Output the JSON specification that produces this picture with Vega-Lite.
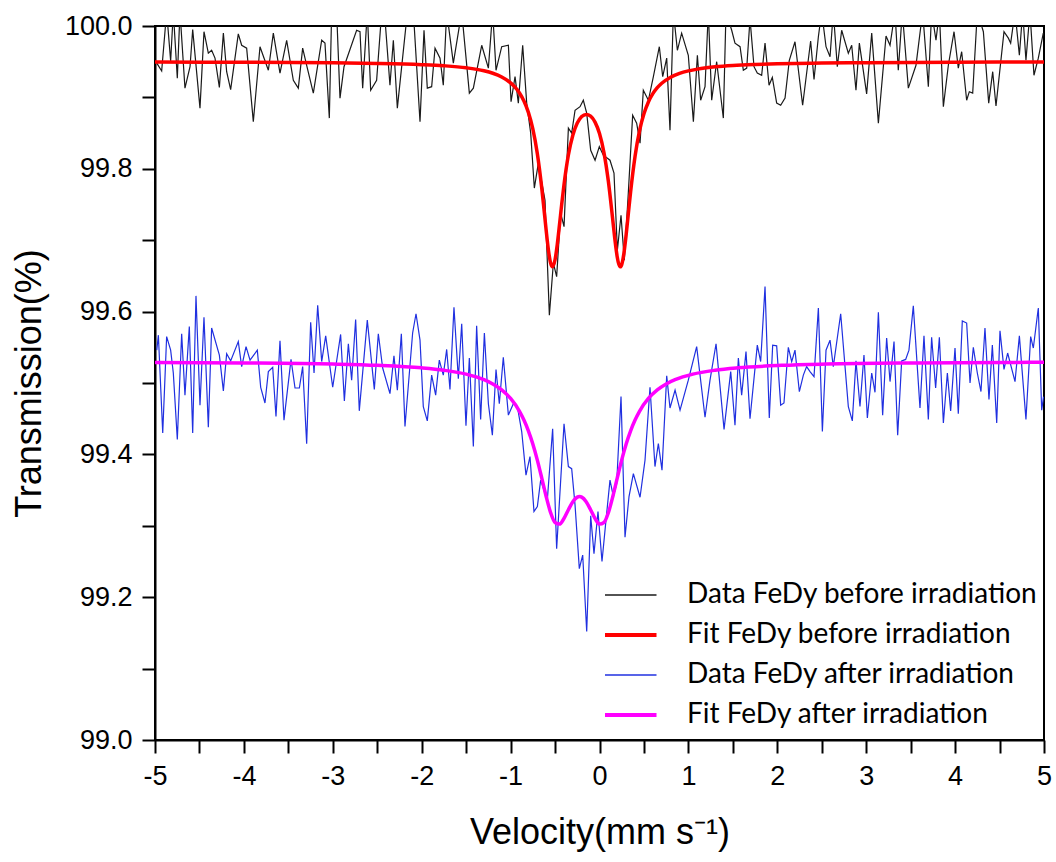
{
"$schema": "https://vega.github.io/schema/vega-lite/v6.json",
"width": 889, "height": 714,
"autosize": {"type": "none"},
"padding": {"left": 155, "top": 26, "right": 12, "bottom": 122},
"background": "white",
"datasets": {
"bd": [
{"x":-4.98,"y":99.948},{"x":-4.925,"y":99.937},{"x":-4.869,"y":100.02},{"x":-4.824,"y":99.951},{"x":-4.794,"y":100.02},{"x":-4.749,"y":99.927},{"x":-4.719,"y":100.02},{"x":-4.663,"y":99.913},{"x":-4.606,"y":99.943},{"x":-4.576,"y":99.995},{"x":-4.494,"y":99.885},{"x":-4.449,"y":99.992},{"x":-4.4,"y":99.962},{"x":-4.363,"y":99.966},{"x":-4.325,"y":99.955},{"x":-4.276,"y":99.914},{"x":-4.231,"y":99.99},{"x":-4.194,"y":99.936},{"x":-4.149,"y":99.911},{"x":-4.063,"y":99.989},{"x":-4.025,"y":99.973},{"x":-3.969,"y":99.969},{"x":-3.894,"y":99.866},{"x":-3.819,"y":99.971},{"x":-3.725,"y":99.938},{"x":-3.669,"y":99.99},{"x":-3.594,"y":99.934},{"x":-3.519,"y":99.98},{"x":-3.444,"y":99.924},{"x":-3.388,"y":99.913},{"x":-3.339,"y":99.969},{"x":-3.294,"y":99.945},{"x":-3.219,"y":99.906},{"x":-3.125,"y":99.98},{"x":-3.088,"y":99.976},{"x":-3.039,"y":99.871},{"x":-3.013,"y":100.02},{"x":-2.957,"y":100.02},{"x":-2.919,"y":99.899},{"x":-2.874,"y":99.943},{"x":-2.732,"y":99.994},{"x":-2.694,"y":99.992},{"x":-2.664,"y":99.913},{"x":-2.612,"y":100.02},{"x":-2.574,"y":99.91},{"x":-2.507,"y":99.924},{"x":-2.45,"y":100.02},{"x":-2.413,"y":100.01},{"x":-2.357,"y":99.917},{"x":-2.319,"y":99.98},{"x":-2.274,"y":99.885},{"x":-2.169,"y":100.01},{"x":-2.094,"y":100.02},{"x":-2.019,"y":99.866},{"x":-1.974,"y":99.994},{"x":-1.937,"y":99.913},{"x":-1.888,"y":99.915},{"x":-1.85,"y":99.969},{"x":-1.794,"y":99.955},
{"x":-1.757,"y":99.917},{"x":-1.719,"y":100.02},{"x":-1.644,"y":99.948},{"x":-1.55,"y":100.02},{"x":-1.464,"y":99.906},{"x":-1.419,"y":99.913},{"x":-1.325,"y":99.973},{"x":-1.25,"y":99.941},{"x":-1.202,"y":100.02},{"x":-1.164,"y":99.938},{"x":-1.1,"y":99.971},{"x":-1.025,"y":99.973},{"x":-0.995,"y":99.894},{"x":-0.95,"y":99.929},{"x":-0.913,"y":99.892},{"x":-0.864,"y":99.973},{"x":-0.819,"y":99.892},{"x":-0.774,"y":99.85},{"x":-0.733,"y":99.773},{"x":-0.688,"y":99.808},{"x":-0.613,"y":99.756},{"x":-0.564,"y":99.595},{"x":-0.519,"y":99.668},{"x":-0.482,"y":99.649},{"x":-0.437,"y":99.738},{"x":-0.399,"y":99.719},{"x":-0.35,"y":99.857},{"x":-0.313,"y":99.85},{"x":-0.275,"y":99.882},{"x":-0.219,"y":99.887},{"x":-0.182,"y":99.896},{"x":-0.144,"y":99.878},{"x":-0.099,"y":99.826},{"x":-0.05,"y":99.812},{"x":-0.002,"y":99.831},{"x":0.043,"y":99.819},{"x":0.118,"y":99.812},{"x":0.163,"y":99.794},{"x":0.201,"y":99.686},{"x":0.242,"y":99.735},{"x":0.279,"y":99.672},{"x":0.324,"y":99.766},{"x":0.373,"y":99.875},{"x":0.418,"y":99.864},{"x":0.456,"y":99.836},{"x":0.493,"y":99.91},{"x":0.55,"y":99.896},{"x":0.606,"y":99.929},{"x":0.673,"y":99.971},{"x":0.711,"y":99.929},{"x":0.756,"y":99.955},{"x":0.793,"y":99.854},{"x":0.831,"y":100.02},{"x":0.876,"y":99.966},{"x":0.924,"y":99.99},{"x":0.999,"y":99.959},{"x":1.056,"y":99.866},{"x":1.101,"y":99.959},{"x":1.138,"y":99.896},{"x":1.187,"y":99.915},{"x":1.224,"y":100.02},{"x":1.262,"y":99.896},{"x":1.318,"y":99.95},{"x":1.393,"y":99.871},{"x":1.423,"y":100.02},{"x":1.487,"y":99.994},{"x":1.524,"y":99.976},{"x":1.581,"y":99.971},{"x":1.618,"y":99.938},{"x":1.656,"y":99.941},{"x":1.693,"y":100.01},
{"x":1.738,"y":99.943},{"x":1.775,"y":99.934},{"x":1.824,"y":99.931},{"x":1.862,"y":99.976},{"x":1.907,"y":99.917},{"x":1.944,"y":99.928},{"x":1.993,"y":99.892},{"x":2.038,"y":99.889},{"x":2.087,"y":99.899},{"x":2.135,"y":99.952},{"x":2.199,"y":99.978},{"x":2.285,"y":99.889},{"x":2.375,"y":99.979},{"x":2.413,"y":99.925},{"x":2.462,"y":99.985},{"x":2.499,"y":100.02},{"x":2.548,"y":99.971},{"x":2.593,"y":99.957},{"x":2.63,"y":100.02},{"x":2.675,"y":99.943},{"x":2.724,"y":99.994},{"x":2.799,"y":99.962},{"x":2.837,"y":99.973},{"x":2.885,"y":99.91},{"x":2.923,"y":99.976},{"x":3.005,"y":99.905},{"x":3.062,"y":99.99},{"x":3.137,"y":99.864},{"x":3.223,"y":99.986},{"x":3.268,"y":99.973},{"x":3.324,"y":100.02},{"x":3.361,"y":99.938},{"x":3.406,"y":100.02},{"x":3.474,"y":99.913},{"x":3.56,"y":99.945},{"x":3.635,"y":100.02},{"x":3.699,"y":99.915},{"x":3.736,"y":100.02},{"x":3.785,"y":99.98},{"x":3.823,"y":100.02},{"x":3.868,"y":99.887},{"x":3.924,"y":99.945},{"x":3.988,"y":99.992},{"x":4.036,"y":99.941},{"x":4.074,"y":99.964},{"x":4.13,"y":99.896},{"x":4.16,"y":99.908},{"x":4.198,"y":99.906},{"x":4.25,"y":100.02},{"x":4.318,"y":99.992},{"x":4.378,"y":99.892},{"x":4.423,"y":99.936},{"x":4.46,"y":99.888},{"x":4.55,"y":99.992},{"x":4.599,"y":99.983},{"x":4.625,"y":99.976},{"x":4.674,"y":100.02},{"x":4.723,"y":99.959},{"x":4.76,"y":100.02},{"x":4.797,"y":99.952},{"x":4.842,"y":100.02},{"x":4.887,"y":99.931},{"x":4.936,"y":99.955},{"x":4.992,"y":99.99}
],
"bf": [
{"x":-5,"y":99.9495},{"x":-4,"y":99.9492},{"x":-3,"y":99.9484},{"x":-2.5,"y":99.9476},{"x":-2,"y":99.9459},{"x":-1.75,"y":99.9443},{"x":-1.5,"y":99.9415},{"x":-1.3,"y":99.9373},{"x":-1.2,"y":99.9338},{"x":-1.1,"y":99.9286},{"x":-1.0,"y":99.9204},{"x":-0.95,"y":99.9143},{"x":-0.9,"y":99.9061},{"x":-0.85,"y":99.8949},{"x":-0.8,"y":99.879},{"x":-0.75,"y":99.8558},{"x":-0.7,"y":99.8217},{"x":-0.65,"y":99.7734},{"x":-0.625,"y":99.7441},{"x":-0.6,"y":99.7139},{"x":-0.575,"y":99.6867},{"x":-0.55,"y":99.668},{"x":-0.53,"y":99.6627},{"x":-0.5,"y":99.6726},{"x":-0.475,"y":99.694},{"x":-0.45,"y":99.7216},{"x":-0.425,"y":99.7505},{"x":-0.4,"y":99.7772},{"x":-0.35,"y":99.8194},{"x":-0.3,"y":99.8471},{"x":-0.25,"y":99.864},{"x":-0.2,"y":99.8732},{"x":-0.15,"y":99.8762},{"x":-0.1,"y":99.8738},{"x":-0.05,"y":99.8654},{"x":0,"y":99.8493},{"x":0.05,"y":99.8227},{"x":0.1,"y":99.7821},{"x":0.15,"y":99.7274},{"x":0.175,"y":99.6992},{"x":0.2,"y":99.6761},{"x":0.21,"y":99.6696},{"x":0.235,"y":99.6627},{"x":0.25,"y":99.6658},{"x":0.275,"y":99.6821},{"x":0.3,"y":99.708},{"x":0.325,"y":99.738},{"x":0.35,"y":99.7677},{"x":0.4,"y":99.8177},{"x":0.45,"y":99.853},{"x":0.5,"y":99.877},{"x":0.55,"y":99.8936},{"x":0.6,"y":99.9052},{"x":0.65,"y":99.9136},{"x":0.7,"y":99.9198},{"x":0.8,"y":99.9283},{"x":0.9,"y":99.9336},{"x":1.0,"y":99.9371},{"x":1.1,"y":99.9396},{"x":1.2,"y":99.9414},{"x":1.3,"y":99.9428},{"x":1.5,"y":99.9447},{"x":1.75,"y":99.9461},{"x":2,"y":99.947},{"x":2.5,"y":99.9481},{"x":3,"y":99.9487},{"x":4,"y":99.9493},{"x":5,"y":99.9495}
],
"ad": [
{"x":-4.98,"y":99.546},{"x":-4.962,"y":99.567},{"x":-4.913,"y":99.43},{"x":-4.869,"y":99.565},{"x":-4.824,"y":99.546},{"x":-4.794,"y":99.514},{"x":-4.749,"y":99.421},{"x":-4.7,"y":99.569},{"x":-4.663,"y":99.483},{"x":-4.614,"y":99.579},{"x":-4.576,"y":99.43},{"x":-4.539,"y":99.622},{"x":-4.494,"y":99.469},{"x":-4.449,"y":99.592},{"x":-4.4,"y":99.438},{"x":-4.363,"y":99.577},{"x":-4.276,"y":99.539},{"x":-4.231,"y":99.489},{"x":-4.194,"y":99.541},{"x":-4.149,"y":99.531},{"x":-4.063,"y":99.558},{"x":-4.025,"y":99.523},{"x":-3.976,"y":99.551},{"x":-3.931,"y":99.532},{"x":-3.849,"y":99.546},{"x":-3.811,"y":99.494},{"x":-3.763,"y":99.472},{"x":-3.725,"y":99.516},{"x":-3.676,"y":99.522},{"x":-3.639,"y":99.453},{"x":-3.594,"y":99.559},{"x":-3.549,"y":99.448},{"x":-3.47,"y":99.533},{"x":-3.425,"y":99.493},{"x":-3.376,"y":99.493},{"x":-3.339,"y":99.523},{"x":-3.294,"y":99.415},{"x":-3.249,"y":99.585},{"x":-3.211,"y":99.514},{"x":-3.17,"y":99.609},{"x":-3.125,"y":99.53},{"x":-3.08,"y":99.566},{"x":-3.001,"y":99.494},{"x":-2.912,"y":99.568},{"x":-2.87,"y":99.475},{"x":-2.825,"y":99.555},{"x":-2.788,"y":99.504},{"x":-2.743,"y":99.589},{"x":-2.702,"y":99.461},{"x":-2.612,"y":99.588},{"x":-2.533,"y":99.491},{"x":-2.488,"y":99.569},{"x":-2.439,"y":99.521},{"x":-2.357,"y":99.485},{"x":-2.312,"y":99.538},{"x":-2.274,"y":99.49},{"x":-2.229,"y":99.569},{"x":-2.188,"y":99.439},{"x":-2.102,"y":99.57},{"x":-2.064,"y":99.597},{"x":-2.019,"y":99.56},{"x":-1.982,"y":99.467},{"x":-1.937,"y":99.447},{"x":-1.888,"y":99.511},{"x":-1.843,"y":99.483},{"x":-1.802,"y":99.532},{"x":-1.757,"y":99.511},
{"x":-1.719,"y":99.547},{"x":-1.682,"y":99.491},{"x":-1.637,"y":99.606},{"x":-1.588,"y":99.506},{"x":-1.55,"y":99.583},{"x":-1.502,"y":99.44},{"x":-1.464,"y":99.535},{"x":-1.419,"y":99.411},{"x":-1.382,"y":99.58},{"x":-1.337,"y":99.449},{"x":-1.295,"y":99.57},{"x":-1.25,"y":99.471},{"x":-1.205,"y":99.427},{"x":-1.164,"y":99.519},{"x":-1.127,"y":99.471},{"x":-1.082,"y":99.536},{"x":-1.025,"y":99.455},{"x":-0.969,"y":99.471},{"x":-0.924,"y":99.467},{"x":-0.875,"y":99.432},{"x":-0.827,"y":99.371},{"x":-0.782,"y":99.397},{"x":-0.737,"y":99.32},{"x":-0.699,"y":99.327},{"x":-0.662,"y":99.364},{"x":-0.587,"y":99.336},{"x":-0.527,"y":99.436},{"x":-0.482,"y":99.268},{"x":-0.399,"y":99.443},{"x":-0.35,"y":99.383},{"x":-0.313,"y":99.38},{"x":-0.275,"y":99.329},{"x":-0.227,"y":99.24},{"x":-0.189,"y":99.259},{"x":-0.144,"y":99.152},{"x":-0.099,"y":99.314},{"x":-0.062,"y":99.261},{"x":-0.017,"y":99.32},{"x":0.028,"y":99.25},{"x":0.073,"y":99.308},{"x":0.118,"y":99.364},{"x":0.156,"y":99.341},{"x":0.193,"y":99.359},{"x":0.242,"y":99.481},{"x":0.287,"y":99.284},{"x":0.332,"y":99.341},{"x":0.381,"y":99.373},{"x":0.456,"y":99.34},{"x":0.512,"y":99.392},{"x":0.568,"y":99.494},{"x":0.624,"y":99.383},{"x":0.662,"y":99.415},{"x":0.703,"y":99.378},{"x":0.756,"y":99.51},{"x":0.793,"y":99.465},{"x":0.85,"y":99.49},{"x":0.906,"y":99.462},{"x":0.999,"y":99.504},{"x":1.093,"y":99.551},{"x":1.187,"y":99.452},{"x":1.243,"y":99.504},{"x":1.311,"y":99.555},{"x":1.401,"y":99.435},{"x":1.476,"y":99.516},{"x":1.524,"y":99.441},{"x":1.562,"y":99.535},{"x":1.599,"y":99.483},{"x":1.648,"y":99.544},{"x":1.693,"y":99.45},
{"x":1.775,"y":99.553},{"x":1.813,"y":99.53},{"x":1.862,"y":99.635},{"x":1.91,"y":99.451},{"x":1.948,"y":99.553},{"x":1.993,"y":99.552},{"x":2.038,"y":99.469},{"x":2.075,"y":99.472},{"x":2.124,"y":99.55},{"x":2.162,"y":99.53},{"x":2.199,"y":99.546},{"x":2.248,"y":99.488},{"x":2.293,"y":99.511},{"x":2.33,"y":99.523},{"x":2.368,"y":99.516},{"x":2.413,"y":99.509},{"x":2.462,"y":99.605},{"x":2.507,"y":99.432},{"x":2.548,"y":99.546},{"x":2.593,"y":99.56},{"x":2.63,"y":99.523},{"x":2.713,"y":99.597},{"x":2.799,"y":99.467},{"x":2.844,"y":99.447},{"x":2.885,"y":99.531},{"x":2.93,"y":99.467},{"x":2.975,"y":99.539},{"x":3.013,"y":99.451},{"x":3.062,"y":99.514},{"x":3.099,"y":99.487},{"x":3.137,"y":99.599},{"x":3.185,"y":99.455},{"x":3.23,"y":99.563},{"x":3.268,"y":99.502},{"x":3.313,"y":99.558},{"x":3.354,"y":99.427},{"x":3.399,"y":99.531},{"x":3.444,"y":99.533},{"x":3.481,"y":99.546},{"x":3.53,"y":99.608},{"x":3.605,"y":99.465},{"x":3.65,"y":99.566},{"x":3.699,"y":99.449},{"x":3.736,"y":99.564},{"x":3.781,"y":99.493},{"x":3.823,"y":99.564},{"x":3.868,"y":99.444},{"x":3.913,"y":99.514},{"x":3.95,"y":99.461},{"x":3.999,"y":99.549},{"x":4.036,"y":99.457},{"x":4.081,"y":99.587},{"x":4.13,"y":99.584},{"x":4.168,"y":99.5},{"x":4.205,"y":99.55},{"x":4.25,"y":99.514},{"x":4.291,"y":99.488},{"x":4.336,"y":99.577},{"x":4.381,"y":99.477},{"x":4.419,"y":99.553},{"x":4.468,"y":99.444},{"x":4.505,"y":99.573},{"x":4.55,"y":99.519},{"x":4.591,"y":99.542},{"x":4.674,"y":99.502},{"x":4.723,"y":99.566},{"x":4.797,"y":99.449},{"x":4.85,"y":99.565},{"x":4.88,"y":99.549},{"x":4.936,"y":99.605},{"x":4.974,"y":99.462},{"x":4.995,"y":99.481}
],
"af": [
{"x":-5,"y":99.5288},{"x":-4,"y":99.5281},{"x":-3,"y":99.5265},{"x":-2.5,"y":99.5247},{"x":-2,"y":99.5212},{"x":-1.75,"y":99.5179},{"x":-1.5,"y":99.5124},{"x":-1.3,"y":99.5046},{"x":-1.2,"y":99.4987},{"x":-1.1,"y":99.4903},{"x":-1.0,"y":99.4783},{"x":-0.9,"y":99.4604},{"x":-0.85,"y":99.4482},{"x":-0.8,"y":99.4331},{"x":-0.75,"y":99.4146},{"x":-0.7,"y":99.3924},{"x":-0.65,"y":99.3672},{"x":-0.6,"y":99.3411},{"x":-0.55,"y":99.3185},{"x":-0.5,"y":99.3046},{"x":-0.45,"y":99.3024},{"x":-0.4,"y":99.3102},{"x":-0.35,"y":99.3225},{"x":-0.3,"y":99.3338},{"x":-0.25,"y":99.3402},{"x":-0.225,"y":99.341},{"x":-0.2,"y":99.3402},{"x":-0.15,"y":99.3338},{"x":-0.1,"y":99.3225},{"x":-0.05,"y":99.3102},{"x":0,"y":99.3024},{"x":0.05,"y":99.3046},{"x":0.1,"y":99.3185},{"x":0.15,"y":99.3411},{"x":0.2,"y":99.3672},{"x":0.25,"y":99.3924},{"x":0.3,"y":99.4146},{"x":0.35,"y":99.4331},{"x":0.4,"y":99.4482},{"x":0.45,"y":99.4604},{"x":0.55,"y":99.4783},{"x":0.65,"y":99.4903},{"x":0.75,"y":99.4987},{"x":0.85,"y":99.5046},{"x":1.05,"y":99.5124},{"x":1.3,"y":99.5179},{"x":1.55,"y":99.5212},{"x":2.05,"y":99.5247},{"x":2.55,"y":99.5265},{"x":3.55,"y":99.5281},{"x":4.55,"y":99.5288},{"x":5,"y":99.529}
]
},
"encoding": {
"x": {"field": "x", "type": "quantitative",
 "scale": {"domain": [-5, 5], "nice": false, "zero": false},
 "axis": {"title": "Velocity(mm s⁻¹)", "values": [-5,-4.5,-4,-3.5,-3,-2.5,-2,-1.5,-1,-0.5,0,0.5,1,1.5,2,2.5,3,3.5,4,4.5,5],
  "labelExpr": "datum.value % 1 == 0 ? '' + datum.value : ''",
  "tickSize": 13, "labelPadding": 10, "titlePadding": 26, "labelFlush": false, "labelOverlap": false,
  "encode": {"ticks": {"update": {"y2": {"signal": "datum.value % 1 == 0 ? 13 : 7"}}}}}},
"y": {"field": "y", "type": "quantitative",
 "scale": {"domain": [99, 100], "nice": false, "zero": false},
 "axis": {"title": "Transmission(%)", "values": [99,99.1,99.2,99.3,99.4,99.5,99.6,99.7,99.8,99.9,100],
  "labelExpr": "round(datum.value*10) % 2 == 0 ? format(datum.value, '.1f') : ''",
  "tickSize": 13, "labelPadding": 10, "titlePadding": 16, "labelFlush": false, "labelOverlap": false,
  "encode": {"ticks": {"update": {"x2": {"signal": "round(datum.value*10) % 2 == 0 ? -13 : -7"}}}}}}
},
"layer": [
{"data": {"name": "bd"}, "mark": {"type": "line", "clip": true, "strokeWidth": 1.2},
 "encoding": {"color": {"datum": "Data FeDy before irradiation",
  "scale": {"domain": ["Data FeDy before irradiation","Fit FeDy before irradiation","Data FeDy after irradiation","Fit FeDy after irradiation"], "range": ["#1a1a1a","#ff0000","#2030e0","#ff00ff"]},
  "legend": {"orient": "none", "legendX": 450, "legendY": 557, "title": null, "symbolType": "stroke", "symbolSize": 5625, "symbolStrokeWidth": 2.5, "clipHeight": 24, "rowPadding": 12, "labelOffset": 54, "padding": 0, "labelLimit": 600,
   "encode": {"symbols": {"update": {"strokeWidth": {"signal": "slice('' + datum.value, 0, 3) == 'Fit' ? 4 : 1.5"}}}}}}}},
{"data": {"name": "ad"}, "mark": {"type": "line", "clip": true, "strokeWidth": 1.2},
 "encoding": {"color": {"datum": "Data FeDy after irradiation"}}},
{"data": {"name": "bf"}, "mark": {"type": "line", "clip": true, "strokeWidth": 3.5, "interpolate": "monotone"},
 "encoding": {"color": {"datum": "Fit FeDy before irradiation"}}},
{"data": {"name": "af"}, "mark": {"type": "line", "clip": true, "strokeWidth": 3.5, "interpolate": "monotone"},
 "encoding": {"color": {"datum": "Fit FeDy after irradiation"}}}
],
"config": {
 "view": {"stroke": "black", "strokeWidth": 2},
 "axis": {"grid": false, "domainColor": "black", "domainWidth": 2, "tickColor": "black", "tickWidth": 2,
  "labelFont": "Liberation Sans", "labelFontSize": 27, "labelColor": "black",
  "titleFont": "Liberation Sans", "titleFontSize": 36, "titleFontWeight": "normal", "titleColor": "black"},
 "legend": {"labelFont": "Lato", "labelFontSize": 28, "labelColor": "black"}
}
}
